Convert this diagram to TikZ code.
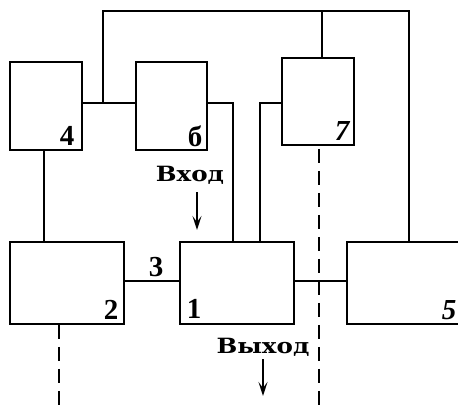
\documentclass[tikz,border=0pt]{standalone}
\usepackage{fontspec}
\setmainfont{Liberation Serif}
\newfontfamily\wordfont[FakeStretch=1.17]{DejaVu Serif}
\usetikzlibrary{arrows.meta}
\begin{document}
\begin{tikzpicture}[x=1pt,y=-1pt,
  ln/.style={line width=1.7pt},
  box/.style={draw,ln,rectangle,inner sep=0pt},
  num/.style={font=\fontsize{29}{29}\selectfont\bfseries,inner sep=0pt,anchor=base},
  word/.style={font=\wordfont\fontsize{21}{21}\selectfont\bfseries,inner sep=0pt,anchor=base},
  dsh/.style={ln,dash pattern=on 14pt off 8pt},
  arr/.style={ln,-{Stealth[length=14pt,width=9pt,inset=6pt]}}]
\useasboundingbox (0,0) rectangle (458,405);
\clip (0,0) rectangle (458,405);
% boxes
\node[box,minimum width=72pt,minimum height=88pt] (b4) at (46,106) {};
\node[box,minimum width=71pt,minimum height=88pt] (b6) at (171.5,106) {};
\node[box,minimum width=72pt,minimum height=87pt] (b7) at (318,101.5) {};
\node[box,minimum width=114pt,minimum height=82pt] (b2) at (67,283) {};
\node[box,minimum width=114pt,minimum height=82pt] (b1) at (237,283) {};
\node[box,minimum width=123pt,minimum height=82pt] (b5) at (408.5,283) {};
% helper coordinates
\coordinate (j1) at (103,103);
\coordinate (tl) at (103,11);
\coordinate (tr) at (409,11);
\coordinate (t7) at (322,11);
\coordinate (r6) at (233,103);
\coordinate (l7) at (260,103);
\coordinate (v4) at (44,0);
\coordinate (m) at (0,281);
\coordinate (d2) at (59,0);
\coordinate (d7) at (319,0);
\coordinate (e2) at (59,405);
\coordinate (e7) at (319,405);
% connectors
\draw[ln] (b4.east |- j1) -- (b6.west |- j1);
\draw[ln] (j1) -- (tl) -- (tr) -- (tr |- b5.north);
\draw[ln] (t7) -- (t7 |- b7.north);
\draw[ln] (b6.east |- r6) -- (r6) -- (r6 |- b1.north);
\draw[ln] (b7.west |- l7) -- (l7) -- (l7 |- b1.north);
\draw[ln] (v4 |- b4.south) -- (v4 |- b2.north);
\draw[ln] (b2.east |- m) -- (b1.west |- m);
\draw[ln] (b1.east |- m) -- (b5.west |- m);
\draw[dsh] (d2 |- b2.south) -- (e2);
\draw[dsh,dash phase=-3pt] (d7 |- b7.south) -- (e7);
% labels
\node[num] (n4) at (67,145) {4};
\node[num] (n6) at (195,146) {б};
\node[num] (n7) at (342,140) {\itshape 7};
\node[num] (n2) at (111,319) {2};
\node[num] (n1) at (194,318) {1};
\node[num] (n3) at (156,276) {3};
\node[num] (n5) at (449,319) {\itshape 5};
\node[word] (in) at (190,181) {Вход};
\node[word] (out) at (263,353) {Выход};
\coordinate (ai1) at (197,192);
\coordinate (ai2) at (197,230);
\coordinate (ao1) at (263,359);
\coordinate (ao2) at (263,396);
\draw[arr] (ai1) -- (ai2);
\draw[arr] (ao1) -- (ao2);
\end{tikzpicture}
\end{document}
